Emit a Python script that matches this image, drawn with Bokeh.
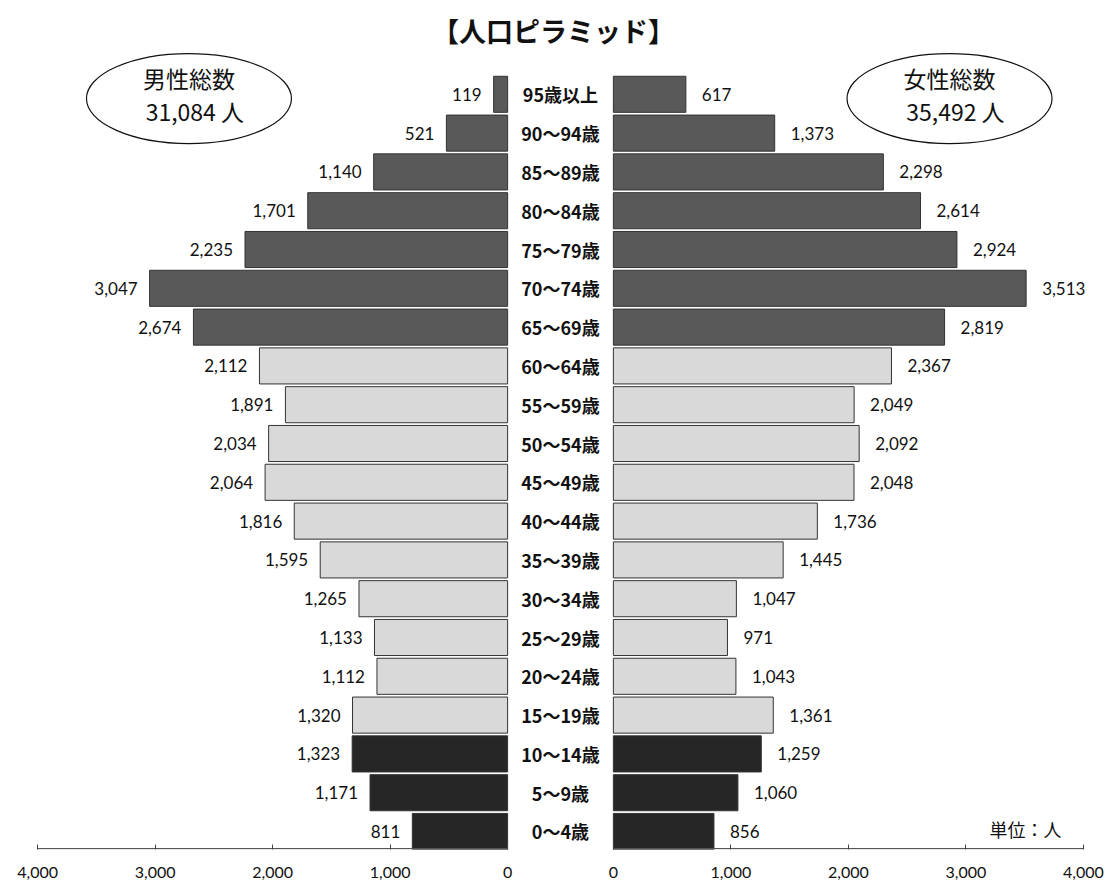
from bokeh.plotting import figure
from bokeh.models import Range1d, FixedTicker, ColumnDataSource, Label
from bokeh.core.properties import value
from bokeh.embed import file_html
from bokeh.resources import INLINE

# ---- data (bottom to top) ----
ages = ["0～4歳", "5～9歳", "10～14歳", "15～19歳", "20～24歳", "25～29歳",
        "30～34歳", "35～39歳", "40～44歳", "45～49歳", "50～54歳", "55～59歳",
        "60～64歳", "65～69歳", "70～74歳", "75～79歳", "80～84歳", "85～89歳",
        "90～94歳", "95歳以上"]
male = [811, 1171, 1323, 1320, 1112, 1133, 1265, 1595, 1816, 2064,
        2034, 1891, 2112, 2674, 3047, 2235, 1701, 1140, 521, 119]
female = [856, 1060, 1259, 1361, 1043, 971, 1047, 1445, 1736, 2048,
          2092, 2049, 2367, 2819, 3513, 2924, 2614, 2298, 1373, 617]
axis_ticks = [0, 1000, 2000, 3000, 4000]
title_text = "【人口ピラミッド】"
unit_text = "単位：人"

# ---- layout constants ----
G = 450          # half gap between the two zero lines (data units)
AXMAX = 4000
JP = "Noto Sans CJK JP"
NUM = "Lato"

def group_color(i):
    if i <= 2:
        return "#262626"   # 0-14
    if i <= 12:
        return "#d9d9d9"   # 15-64
    return "#595959"       # 65+

idx = list(range(len(ages)))
colors = [group_color(i) for i in idx]

src = ColumnDataSource(dict(
    y=idx,
    age=ages,
    m_left=[-G - v for v in male],
    m_right=[-G] * len(male),
    f_left=[G] * len(female),
    f_right=[G + v for v in female],
    m_lab=[f"{v:,}" for v in male],
    f_lab=[f"{v:,}" for v in female],
    color=colors,
    zero=[0] * len(ages),
))

y0 = -0.464
p = figure(width=1106, height=886,
           x_range=Range1d(-4766, 4647), y_range=Range1d(y0, 21.418),
           output_backend="svg", toolbar_location=None,
           min_border=0, min_border_bottom=37, outline_line_color=None,
           background_fill_color="white", border_fill_color="white")
p.xgrid.visible = False
p.ygrid.visible = False
p.yaxis.visible = False

BH = 0.93
p.hbar(y="y", left="m_left", right="m_right", height=BH, source=src,
       fill_color="color", line_color="#333333", line_width=1)
p.hbar(y="y", left="f_left", right="f_right", height=BH, source=src,
       fill_color="color", line_color="#333333", line_width=1)

# value labels
p.text(x="m_left", y="y", text="m_lab", source=src, x_offset=-12,
       text_align="right", text_baseline="middle",
       text_font=value(NUM), text_font_size="17px", text_color="#111111")
p.text(x="f_right", y="y", text="f_lab", source=src, x_offset=16,
       text_align="left", text_baseline="middle",
       text_font=value(NUM), text_font_size="17px", text_color="#111111")

# age labels
p.text(x="zero", y="y", text="age", source=src,
       text_align="center", text_baseline="middle",
       text_font=value(JP), text_font_style="bold",
       text_font_size="18px", text_color="#111111")

# axis
ticks = [-G - t for t in axis_ticks] + [G + t for t in axis_ticks]
ax = p.xaxis[0]
ax.ticker = FixedTicker(ticks=ticks)
ax.major_label_overrides = {(-G - t): f"{t:,}" for t in axis_ticks} | {(G + t): f"{t:,}" for t in axis_ticks}
ax.axis_line_color = None
ax.minor_tick_line_color = None
ax.major_tick_in = 5
ax.major_tick_out = 0
ax.major_tick_line_color = "#444444"
ax.major_label_standoff = 17
ax.major_label_text_font = NUM
ax.major_label_text_font_size = "16px"
ax.major_label_text_color = "#111111"

base = y0 + 0.02
p.segment(x0=[-G - AXMAX, G], y0=[base, base], x1=[-G, G + AXMAX], y1=[base, base],
          line_color="#555555", line_width=1.3)

# ellipses with totals
ell_y = 18.89
ell_x = [-3162, 3311]
p.ellipse(x=ell_x, y=[ell_y, ell_y], width=205, height=90,
          width_units="screen", height_units="screen",
          fill_color="white", line_color="#111111", line_width=1.2)

totals = [("男性総数", sum(male), ell_x[0]), ("女性総数", sum(female), ell_x[1])]
for name, tot, x in totals:
    p.add_layout(Label(x=x, y=19.43, text=name, text_align="center",
                       text_baseline="middle", text_font=JP,
                       text_font_size="23px", text_color="#111111"))
    p.add_layout(Label(x=x + 50, y=18.58, text=f"{tot:,} 人", text_align="center",
                       text_baseline="middle", text_font=JP,
                       text_font_size="23px", text_color="#111111"))

p.add_layout(Label(x=-60, y=20.64, text=title_text, text_align="center",
                   text_baseline="middle", text_font=JP, text_font_style="bold",
                   text_font_size="27px", text_color="#111111"))
p.add_layout(Label(x=3957, y=0.077, text=unit_text, text_align="center",
                   text_baseline="middle", text_font=JP,
                   text_font_size="18px", text_color="#111111"))

open("out.html", "w").write(file_html(p, INLINE))
